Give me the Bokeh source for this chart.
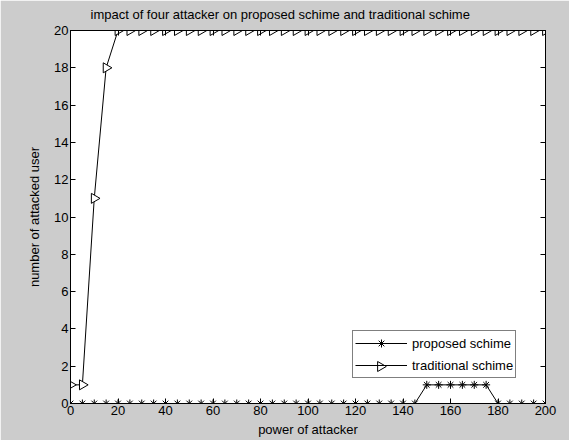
import math
from bokeh.plotting import figure
from bokeh.models import Range1d, LinearAxis, Legend, LegendItem, FixedTicker, Title
from bokeh.embed import file_html
from bokeh.resources import INLINE

power = list(range(0, 201, 5))
proposed = [0]*30 + [1, 1, 1, 1, 1, 1] + [0]*5
traditional = [1, 1, 11, 18] + [20]*37
x_ticks = list(range(0, 201, 20))
y_ticks = list(range(0, 21, 2))
title_text = "impact of four attacker on proposed schime and traditional schime"

FONT = "Liberation Sans"
FS = "13px"
BG = "#cccccc"
W, H = 569, 440
BL, BR, BT, BB = 70, 24, 30, 37
LEG_X, LEG_Y, LEG_GW, LEG_PAD = 282, 25, 52, 2

p = figure(width=W, height=H, output_backend="svg", toolbar_location=None,
           x_range=Range1d(0, 200), y_range=Range1d(0, 20),
           min_border_left=BL, min_border_right=BR, min_border_top=BT, min_border_bottom=BB,
           background_fill_color="white", border_fill_color=BG,
           x_axis_location=None, y_axis_location=None)
p.grid.visible = False
p.outline_line_color = "black"
p.outline_line_width = 1

def mk_axis(side, show_labels):
    ax = LinearAxis()
    ticks = x_ticks if side in ("below", "above") else y_ticks
    ax.ticker = FixedTicker(ticks=ticks)
    ax.major_tick_in = 5
    ax.major_tick_out = 0
    ax.minor_tick_line_color = None
    ax.axis_line_color = "black"
    ax.major_tick_line_color = "black"
    ax.major_label_text_font = FONT
    ax.major_label_text_color = "black"
    ax.major_label_text_font_size = FS
    ax.major_label_standoff = 2
    if not show_labels:
        ax.major_label_overrides = {t: "" for t in ticks}
        ax.major_label_standoff = 0
    ax.axis_label_text_font = FONT
    ax.axis_label_text_font_style = "normal"
    ax.axis_label_text_font_size = FS
    ax.axis_label_text_color = "black"
    return ax

xa = mk_axis("below", True)
xa.axis_label = "power of attacker"
xa.axis_label_standoff = 4
ya = mk_axis("left", True)
ya.axis_label = "number of attacked user"
ya.axis_label_standoff = 9
p.add_layout(xa, "below")
p.add_layout(ya, "left")
p.add_layout(mk_axis("above", False), "above")
p.add_layout(mk_axis("right", False), "right")

p.add_layout(Title(text=title_text, text_font=FONT, text_font_size=FS,
                   text_font_style="normal", text_color="black",
                   align="left", offset=20, vertical_align="top", standoff=13), "above")

l1 = p.line(power, proposed, line_color="black", line_width=1)
m1 = p.scatter(power, proposed, marker="asterisk", size=8, line_color="black", line_width=1)
l2 = p.line(power, traditional, line_color="black", line_width=1)
m2 = p.scatter(power, traditional, marker="triangle", angle=-math.pi/2, size=10,
               line_color="black", fill_color="white", line_width=1)

legend = Legend(items=[LegendItem(label="proposed schime", renderers=[l1, m1]),
                       LegendItem(label="traditional schime", renderers=[l2])],
                location=(LEG_X, LEG_Y), label_text_font=FONT, label_text_font_size=FS,
                label_text_color="black", glyph_width=LEG_GW, glyph_height=20,
                border_line_color="black", background_fill_alpha=0,
                padding=LEG_PAD, spacing=2, margin=0, label_standoff=5)
p.add_layout(legend, "center")

# right-pointing triangle key for the legend (legend keys ignore marker angle)
fw = W - BL - BR
fh = H - BT - BB
key_sx = LEG_X + LEG_PAD + LEG_GW / 2
key_sy = LEG_Y + LEG_PAD + 10
key_x = [key_sx / fw * 200]
key_y = [key_sy / fh * 20]
p.scatter(key_x, key_y, marker="triangle", angle=-math.pi/2, size=10,
          line_color="black", fill_color="white", line_width=1)

open("out.html", "w").write(file_html(p, INLINE))
